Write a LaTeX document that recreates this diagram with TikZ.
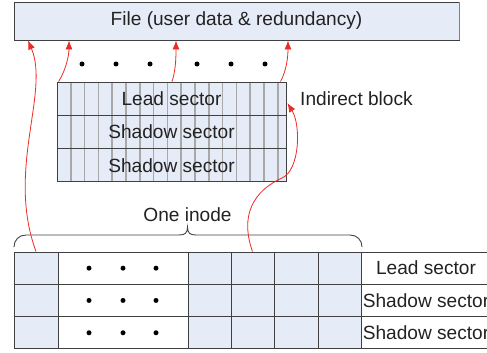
\documentclass[tikz,border=0pt]{standalone}
\usepackage{fontspec}
\setmainfont{Liberation Sans}
\usetikzlibrary{arrows.meta,calc}
\definecolor{boxblue}{HTML}{E6ECF7}
\definecolor{edge}{HTML}{404040}
\definecolor{stripe}{HTML}{A8A8A8}
\definecolor{arrowred}{HTML}{EE2A24}
\definecolor{txt}{HTML}{222222}
\tikzset{
  lbl/.style={font=\fontsize{19.1}{22}\selectfont, text=txt, inner sep=0pt},
  rowbox/.style={draw=edge, line width=0.9pt, minimum width=229pt, minimum height=33.3pt, inner sep=0pt, font=\fontsize{19.1}{22}\selectfont, text=txt},
  cellb/.style={draw=edge, line width=0.9pt, fill=boxblue, inner sep=0pt, minimum height=32.3pt},
  cellw/.style={draw=edge, line width=0.9pt, fill=white, inner sep=0pt, minimum height=32.3pt},
  redarrow/.style={draw=arrowred, line width=0.8pt, -{Latex[length=9pt,width=7pt]}},
  dotm/.style={circle, fill=black, inner sep=0pt, minimum size=5pt},
}
\begin{document}
\begin{tikzpicture}[x=1pt,y=-1pt]
\useasboundingbox (0,0) rectangle (487,353);
\clip (0,0) rectangle (487,353);

% File box
\node[draw=edge, line width=0.9pt, fill=boxblue, minimum width=445pt, minimum height=38pt, inner sep=0pt, lbl] (file) at (236.5,21) {File (user data \& redundancy)};
\draw[gray, line width=1.6pt] (file.north east) -- (file.south east);

% top dots
\foreach \x [count=\i] in {82,116,150,197,231,265}
  \node[dotm] (td\i) at (\x,64) {};

% Indirect block
\fill[boxblue] (57,82) rectangle (286,182);
\foreach \k in {1,...,16}
  \draw[stripe, line width=1.6pt] ({57+13.8*\k},82) -- ({57+13.8*\k},182);
\node[rowbox] (lead) at (171.5,98.65) {Lead sector};
\node[rowbox] (sh1) at (171.5,131.95) {Shadow sector};
\node[rowbox] (sh2) at (171.5,165.25) {Shadow sector};
\node[lbl, anchor=west] (ind) at (300,99) {Indirect block};

% One inode brace
\node[lbl] (inode) at (187.5,215) {One inode};
\draw[edge, line width=0.9pt] (14,247) .. controls (14,240) and (19,235) .. (26,235) -- (179,235)
  .. controls (185,235) and (187.5,233) .. (187.5,227)
  .. controls (187.5,233) and (190,235) .. (196,235) -- (350,235)
  .. controls (357,235) and (362,240) .. (362,247);

% bottom grid
\foreach \r/\y in {1/268.15, 2/300.45, 3/332.75}{
  \node[cellb, minimum width=44pt] (c\r1) at (36,\y) {};
  \node[cellw, minimum width=130pt] (c\r2) at (123,\y) {};
  \node[cellb, minimum width=43pt] (c\r3) at (209.5,\y) {};
  \node[cellb, minimum width=43pt] (c\r4) at (252.5,\y) {};
  \node[cellb, minimum width=44pt] (c\r5) at (296,\y) {};
  \node[cellb, minimum width=43pt] (c\r6) at (339.5,\y) {};
  \foreach \x [count=\j] in {89,123,156}
    \node[dotm] (bd\r\j) at (\x,\y) {};
}
\foreach \y in {252,284.3,316.6,348.9}
  \draw[edge, line width=0.9pt] (361,\y) -- (490,\y);
\node[lbl] (l1) at (426,268.15) {Lead sector};
\node[lbl] (l2) at (426,300.45) {Shadow sector};
\node[lbl] (l3) at (426,332.75) {Shadow sector};

% arrows
\coordinate (e1) at (file.south west -| 28,0);
\coordinate (e2) at (file.south west -| 69,0);
\coordinate (e3) at (file.south west -| 176,0);
\coordinate (e4) at (file.south west -| 288,0);
\draw[redarrow] (c11.north) .. controls (6,170) and (50,92) .. (e1);
\draw[redarrow] ($(lead.north west)+(2,0)$) .. controls (66,70) and (69,55) .. (e2);
\draw[redarrow] ($(lead.north)+(0.5,0)$) .. controls (176,70) and (176,55) .. (e3);
\draw[redarrow] ($(lead.north east)+(-6,0)$) .. controls (287,70) and (288,55) .. (e4);
\draw[redarrow] (c14.north) .. controls (243,225) and (245,195) .. (282,178)
  .. controls (300,170) and (301,125) .. ($(lead.east)+(1,4.5)$);
\end{tikzpicture}
\end{document}
